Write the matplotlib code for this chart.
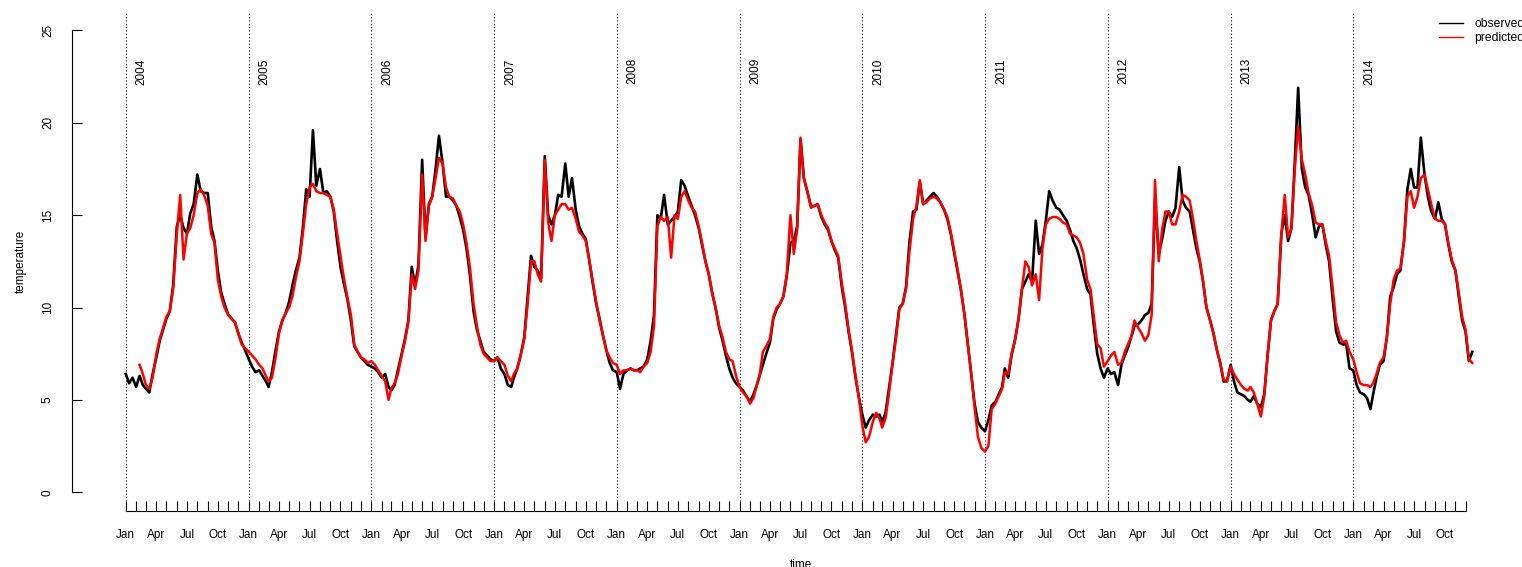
import numpy as np
import matplotlib
matplotlib.use("Agg")
import matplotlib.pyplot as plt
import matplotlib.dates as mdates

plt.rcParams['font.family'] = ['Liberation Sans', 'DejaVu Sans']

# samples on the 1st, 11th and 21st of every month
years = list(range(2004, 2015))
sample_days = [1, 11, 21]
month_abbr = ['Jan', 'Feb', 'Mar', 'Apr', 'May', 'Jun',
              'Jul', 'Aug', 'Sep', 'Oct', 'Nov', 'Dec']
labelled_months = ['Jan', 'Apr', 'Jul', 'Oct']
nan = np.nan

obs_2004 = [6.4, 5.9, 6.2, 5.7, 6.3, 5.8, 5.6, 5.4, 6.4, 7.3, 8.2, 8.8,
            9.4, 9.8, 11.2, 14.4, 15.0, 14.3, 14.0, 15.1, 15.6, 17.2, 16.3, 16.2,
            16.2, 14.4, 13.6, 12.0, 10.8, 10.2, 9.6, 9.4, 9.2, 8.6, 8.1, 7.7]
pred_2004 = [nan, nan, nan, nan, 6.9, 6.4, 5.8, 5.6, 6.2, 7.5, 8.3, 8.9,
             9.5, 9.8, 11.0, 14.0, 16.1, 12.6, 14.0, 14.3, 15.0, 16.2, 16.4, 16.1,
             15.5, 14.0, 13.5, 11.5, 10.6, 10.0, 9.6, 9.4, 9.2, 8.6, 8.0, 7.8]

obs_2005 = [7.2, 6.8, 6.5, 6.6, 6.3, 6.0, 5.7, 6.5, 7.6, 8.7, 9.3, 9.7,
            10.3, 11.2, 12.0, 12.7, 14.3, 16.4, 16.0, 19.6, 16.6, 17.5, 16.2, 16.3,
            16.0, 15.2, 13.6, 12.2, 11.3, 10.5, 9.3, 7.9, 7.6, 7.3, 7.1, 6.9]
pred_2005 = [7.6, 7.4, 7.2, 6.9, 6.7, 6.3, 6.0, 6.2, 7.2, 8.6, 9.3, 9.7,
             10.0, 10.6, 11.6, 12.5, 14.0, 15.6, 16.5, 16.7, 16.3, 16.2, 16.2, 16.1,
             16.0, 15.3, 14.0, 12.8, 11.6, 10.6, 9.6, 8.0, 7.6, 7.3, 7.2, 7.0]

obs_2006 = [6.8, 6.7, 6.5, 6.2, 6.4, 5.7, 5.5, 5.8, 6.6, 7.5, 8.3, 9.3,
            12.2, 11.2, 12.3, 18.0, 13.8, 15.6, 16.0, 17.5, 19.3, 17.8, 16.0, 16.0,
            15.8, 15.5, 14.9, 14.2, 13.2, 11.8, 9.8, 8.8, 8.2, 7.6, 7.4, 7.2]
pred_2006 = [7.1, 6.9, 6.6, 6.3, 6.0, 5.0, 5.6, 5.9, 6.4, 7.4, 8.2, 9.2,
             11.8, 11.0, 12.0, 17.2, 13.6, 15.5, 16.0, 17.0, 18.1, 17.8, 16.5, 16.0,
             15.9, 15.5, 15.2, 14.5, 13.5, 12.2, 10.2, 9.0, 8.0, 7.5, 7.3, 7.1]

obs_2007 = [7.1, 7.3, 6.7, 6.4, 5.8, 5.7, 6.2, 6.7, 7.4, 8.4, 10.6, 12.8,
            12.2, 12.0, 11.6, 18.2, 15.0, 14.5, 15.0, 16.1, 16.0, 17.8, 16.0, 17.0,
            15.3, 14.4, 14.0, 13.7, 12.6, 11.4, 10.2, 9.4, 8.5, 7.7, 7.0, 6.6]
pred_2007 = [7.1, 7.3, 7.1, 6.9, 6.3, 6.0, 6.4, 6.7, 7.4, 8.3, 10.2, 12.5,
             12.5, 11.8, 11.4, 18.0, 14.6, 13.6, 15.0, 15.3, 15.6, 15.6, 15.3, 15.4,
             14.8, 14.1, 13.9, 13.6, 12.6, 11.5, 10.3, 9.3, 8.5, 7.7, 7.3, 7.0]

obs_2008 = [6.5, 5.6, 6.4, 6.6, 6.7, 6.6, 6.6, 6.7, 6.8, 7.2, 8.2, 9.6,
            15.0, 14.8, 16.1, 14.5, 14.7, 14.9, 15.2, 16.9, 16.6, 16.0, 15.5, 15.0,
            14.3, 13.4, 12.5, 11.8, 10.8, 10.0, 8.9, 8.2, 7.4, 6.7, 6.2, 5.9]
pred_2008 = [6.9, 6.4, 6.6, 6.6, 6.7, 6.6, 6.6, 6.5, 6.8, 7.0, 7.6, 9.0,
             14.4, 14.9, 14.7, 14.9, 12.7, 15.0, 14.8, 16.0, 16.3, 15.8, 15.4, 15.2,
             14.4, 13.5, 12.5, 11.8, 10.8, 10.0, 9.0, 8.4, 7.6, 7.2, 7.1, 6.3]

obs_2009 = [5.7, 5.5, 5.2, 4.9, 5.3, 5.8, 6.3, 6.9, 7.5, 8.1, 9.4, 9.9,
            10.2, 10.6, 11.7, 13.5, 13.6, 14.4, 19.1, 17.0, 16.3, 15.5, 15.5, 15.6,
            14.9, 14.5, 14.2, 13.6, 13.1, 12.7, 11.1, 10.0, 8.7, 7.6, 6.3, 5.2]
pred_2009 = [5.7, 5.4, 5.2, 4.8, 5.1, 5.8, 6.3, 7.6, 7.9, 8.3, 9.5, 10.0,
             10.2, 10.6, 11.8, 15.0, 12.9, 14.2, 19.2, 17.0, 16.3, 15.4, 15.5, 15.6,
             15.0, 14.6, 14.3, 13.6, 13.2, 12.8, 11.3, 10.2, 8.8, 7.7, 6.4, 5.2]

obs_2010 = [4.2, 3.5, 3.9, 4.2, 4.1, 4.2, 3.8, 4.3, 5.6, 7.0, 8.5, 10.0,
            10.2, 11.1, 13.5, 15.2, 15.3, 16.8, 15.6, 15.8, 16.0, 16.2, 16.0, 15.7,
            15.3, 14.8, 14.0, 13.0, 12.0, 11.0, 9.6, 8.0, 6.4, 4.8, 3.8, 3.5]
pred_2010 = [3.6, 2.7, 3.0, 3.8, 4.3, 4.0, 3.5, 4.0, 5.3, 7.0, 8.3, 9.9,
             10.2, 11.0, 13.0, 14.8, 15.5, 16.9, 15.6, 15.7, 15.9, 16.0, 15.9, 15.7,
             15.3, 14.9, 14.1, 13.1, 12.1, 11.0, 9.6, 8.0, 6.4, 4.6, 3.0, 2.4]

obs_2011 = [3.3, 3.9, 4.7, 4.9, 5.3, 5.7, 6.7, 6.2, 7.4, 8.3, 9.4, 11.0,
            11.4, 11.8, 11.4, 14.7, 12.9, 13.4, 14.7, 16.3, 15.8, 15.4, 15.3, 15.0,
            14.7, 14.2, 13.6, 13.2, 12.6, 11.8, 11.0, 10.7, 9.0, 7.5, 6.7, 6.2]
pred_2011 = [2.2, 2.5, 4.5, 4.8, 5.2, 5.6, 6.5, 6.4, 7.5, 8.3, 9.4, 11.0,
             12.5, 12.2, 11.2, 11.8, 10.4, 13.2, 14.5, 14.8, 14.9, 14.9, 14.8, 14.6,
             14.5, 14.0, 13.9, 13.8, 13.5, 12.9, 11.5, 11.0, 9.5, 8.0, 7.8, 6.8]

obs_2012 = [6.7, 6.4, 6.5, 5.8, 6.9, 7.4, 7.8, 8.4, 9.0, 9.1, 9.3, 9.6,
            9.7, 10.2, 15.8, 12.9, 13.7, 14.7, 15.2, 14.9, 15.4, 17.6, 15.8, 15.4,
            15.2, 14.2, 13.2, 12.5, 11.4, 10.0, 9.3, 8.6, 7.7, 7.0, 6.0, 6.0]
pred_2012 = [7.1, 7.4, 7.6, 6.9, 7.0, 7.6, 8.0, 8.4, 9.3, 8.9, 8.6, 8.2,
             8.5, 9.6, 16.9, 12.5, 14.2, 15.2, 15.2, 14.5, 14.5, 15.2, 16.1, 16.0,
             15.8, 14.8, 13.6, 12.6, 11.4, 10.0, 9.3, 8.6, 7.7, 7.0, 6.1, 6.0]

obs_2013 = [6.9, 6.0, 5.4, 5.3, 5.2, 5.0, 4.9, 5.2, 4.8, 4.6, 5.3, 7.4,
            9.3, 9.8, 10.2, 14.0, 15.0, 13.6, 14.3, 17.9, 21.9, 17.5, 16.5, 16.1,
            15.0, 13.8, 14.4, 14.5, 13.4, 12.5, 10.4, 8.7, 8.1, 8.0, 8.0, 6.7]
pred_2013 = [6.8, 6.4, 6.1, 5.8, 5.6, 5.5, 5.7, 5.4, 4.8, 4.1, 5.2, 7.4,
             9.3, 9.8, 10.2, 14.0, 16.1, 13.8, 14.3, 17.5, 19.8, 18.0, 17.2, 16.2,
             15.5, 14.6, 14.5, 14.5, 13.6, 12.8, 11.0, 9.2, 8.5, 8.1, 8.2, 7.6]

obs_2014 = [6.6, 5.8, 5.4, 5.3, 5.1, 4.5, 5.3, 6.2, 6.9, 7.1, 8.4, 10.6,
            11.1, 11.8, 12.0, 13.6, 16.4, 17.5, 16.5, 16.5, 19.2, 17.2, 16.0, 15.2,
            14.8, 15.7, 14.8, 14.5, 13.4, 12.5, 12.0, 10.6, 9.3, 8.7, 7.1, 7.6]
pred_2014 = [7.2, 6.5, 5.9, 5.8, 5.8, 5.7, 5.9, 6.4, 7.0, 7.3, 8.4, 10.2,
             11.5, 12.0, 12.1, 13.6, 16.0, 16.3, 15.4, 16.0, 17.0, 17.2, 16.4, 15.6,
             14.8, 14.7, 14.7, 14.5, 13.5, 12.6, 12.0, 10.8, 9.5, 8.8, 7.2, 7.0]

observed = np.concatenate([obs_2004, obs_2005, obs_2006, obs_2007, obs_2008, obs_2009,
                           obs_2010, obs_2011, obs_2012, obs_2013, obs_2014])
predicted = np.concatenate([pred_2004, pred_2005, pred_2006, pred_2007, pred_2008, pred_2009,
                            pred_2010, pred_2011, pred_2012, pred_2013, pred_2014])

dates = np.array([np.datetime64(f"{y}-{m:02d}-{d:02d}")
                  for y in years for m in range(1, 13) for d in sample_days])
x = mdates.date2num(dates)

W, H = 1522, 567
fig = plt.figure(figsize=(W / 100, H / 100), dpi=100)
# plot region runs a bit past the right edge, like the cropped original
ax = fig.add_axes([72 / W, (H - 510.7) / H, (1529.7 - 72) / W, (510.7 - 12) / H])

d0 = mdates.date2num(np.datetime64("2004-01-01"))
ax.set_xlim(d0 - 160, d0 + 4178)
ax.set_ylim(-1, 26)

year_starts = mdates.date2num(np.array([np.datetime64(f"{y}-01-01") for y in years]))
for xs, yr in zip(year_starts, years):
    ax.plot([xs, xs], [-0.45, 26], color="black", linestyle=(0, (1, 2)), lw=0.8)
    ax.text(xs + 48, 23.5, str(yr), rotation=90, ha="center", va="top", fontsize=8.5)

ax.plot(x, observed, color="black", lw=1.9, label="observed")
ax.plot(x, predicted, color="red", lw=1.8, label="predicted")

month_ticks = mdates.date2num(np.array([np.datetime64(f"{y}-{m:02d}-01")
                                        for y in years for m in range(1, 13)]))
tick_labels = [month_abbr[m] if month_abbr[m] in labelled_months else ""
               for y in years for m in range(12)]
ax.set_xticks(month_ticks)
ax.set_xticklabels(tick_labels)
ax.tick_params(axis="x", direction="in", length=7.2, width=0.8, pad=13, labelsize=8.5)

ax.set_yticks([0, 5, 10, 15, 20, 25])
ax.tick_params(axis="y", direction="in", length=7.2, width=0.8, pad=13, labelsize=8.5,
               labelrotation=90)
for lab in ax.get_yticklabels():
    lab.set_va("center")

for side in ["top", "right"]:
    ax.spines[side].set_visible(False)
ax.spines["left"].set_bounds(0, 25)
ax.spines["bottom"].set_bounds(month_ticks[0], month_ticks[-1])
ax.spines["left"].set_linewidth(0.8)
ax.spines["bottom"].set_linewidth(0.8)

ax.set_xlabel("time", fontsize=8.5, labelpad=13)
ax.set_ylabel("temperature", fontsize=8.5, labelpad=11)

leg = ax.legend(loc="upper left", bbox_to_anchor=(1439 / W, 1 - 18 / H),
                bbox_transform=fig.transFigure, frameon=False, fontsize=8.7,
                handlelength=2.0, handletextpad=0.9, borderpad=0, borderaxespad=0,
                labelspacing=0.15)
for h in leg.get_lines():
    h.set_linewidth(1.0)

fig.savefig("out.png", dpi=100)
